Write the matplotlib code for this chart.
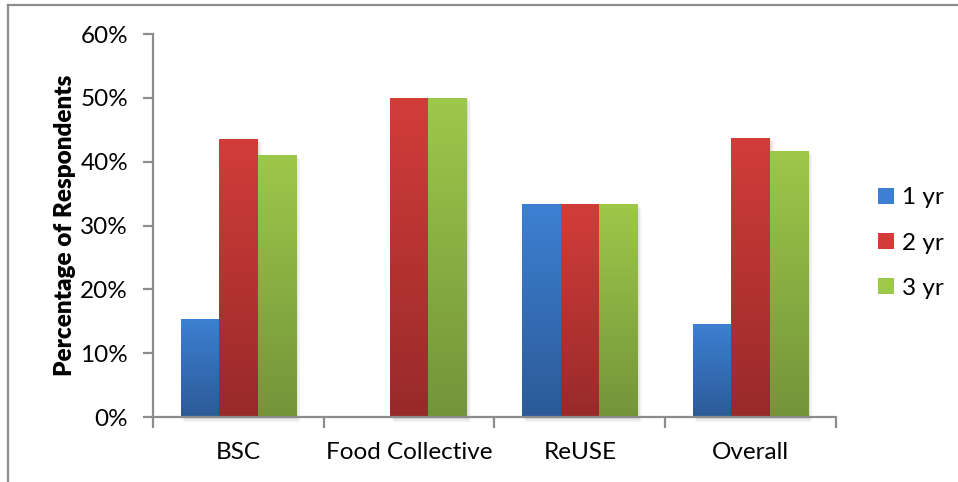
import numpy as np
import matplotlib
matplotlib.use("Agg")
import matplotlib.pyplot as plt
from matplotlib.patches import Rectangle
from matplotlib.lines import Line2D
from matplotlib.colors import LinearSegmentedColormap
from matplotlib.ticker import FixedLocator, PercentFormatter

categories = ["BSC", "Food Collective", "ReUSE", "Overall"]
series_names = ["1 yr", "2 yr", "3 yr"]
one_yr = [15.4, 0.0, 33.3, 14.6]
two_yr = [43.6, 50.0, 33.3, 43.75]
three_yr = [41.0, 50.0, 33.3, 41.7]
y_ticks = [0, 10, 20, 30, 40, 50, 60]

# gradient colours (top, bottom) for each series
grad = [("#3d80d2", "#2c5a98"), ("#d23d3a", "#982a2a"), ("#9dc84a", "#74943a")]

plt.rcParams["font.family"] = ["Lato", "DejaVu Sans"]

fig = plt.figure(figsize=(9.58, 4.82), dpi=100)
ax = fig.add_axes([153 / 958, 1 - 417 / 482, (836 - 153) / 958, (417 - 34) / 482])

# outer frame (top and left edges)
fig.add_artist(Line2D([8 / 958, 8 / 958], [0, 1 - 5 / 482], color="#8c8c8c", lw=1.6,
                      transform=fig.transFigure))
fig.add_artist(Line2D([8 / 958, 1], [1 - 5 / 482, 1 - 5 / 482], color="#8c8c8c", lw=1.6,
                      transform=fig.transFigure))

width = 0.2255
x = np.arange(len(categories)) + 0.5
values = [one_yr, two_yr, three_yr]

# soft drop shadow behind each bar
for i in range(len(categories)):
    for k in range(6):
        dx = 0.004 + k * 0.004
        for j, vals in enumerate(values):
            v = vals[i]
            if v <= 0:
                continue
            bx = x[i] + (j - 1) * width - width / 2
            ax.add_patch(Rectangle((bx + dx, -0.25 - k * 0.12), width, v + 0.2,
                                   facecolor="black", edgecolor="none", alpha=0.025,
                                   zorder=1, clip_on=False))

for j, vals in enumerate(values):
    cmap = LinearSegmentedColormap.from_list("g%d" % j, [grad[j][1], grad[j][0]])
    bars = ax.bar(x + (j - 1) * width, vals, width, color=grad[j][0], zorder=2,
                  linewidth=0, label=series_names[j])
    for b in bars:
        h = b.get_height()
        if h <= 0:
            continue
        bx = b.get_x()
        g = np.linspace(0, 1, 256).reshape(-1, 1)
        im = ax.imshow(g, cmap=cmap, origin="lower", aspect="auto",
                       extent=[bx, bx + b.get_width(), 0, h], zorder=3,
                       interpolation="bilinear")
        im.set_clip_path(b)

ax.set_xlim(0, len(categories))
ax.set_ylim(0, 60)

for s in ["top", "right"]:
    ax.spines[s].set_visible(False)
for s in ["left", "bottom"]:
    ax.spines[s].set_color("#8c8c8c")
    ax.spines[s].set_linewidth(1.6)
    ax.spines[s].set_zorder(4)

ax.set_yticks(y_ticks)
ax.yaxis.set_major_formatter(PercentFormatter(decimals=0))
ax.tick_params(axis="y", length=7, width=1.6, color="#8c8c8c", labelsize=17.5, pad=11)

ax.xaxis.set_major_locator(FixedLocator(np.arange(len(categories) + 1)))
ax.xaxis.set_minor_locator(FixedLocator(x))
ax.set_xticklabels([""] * (len(categories) + 1))
ax.set_xticklabels(categories, minor=True)
ax.tick_params(axis="x", which="major", length=8, width=1.6, color="#8c8c8c")
ax.tick_params(axis="x", which="minor", length=0, labelsize=17.5, pad=18)

ax.set_ylabel("Percentage of Respondents", fontsize=17.5, fontweight="heavy", labelpad=3)

handles = [Rectangle((0, 0), 1, 1, facecolor=grad[j][0], edgecolor="none")
           for j in range(3)]
fig.legend(handles, series_names, loc="center left", bbox_to_anchor=(856 / 958, 1 - 243 / 482),
           frameon=False, fontsize=17.5, handlelength=0.65, handleheight=0.65,
           handletextpad=0.35, labelspacing=1.0)

fig.savefig("out.png", dpi=100)
